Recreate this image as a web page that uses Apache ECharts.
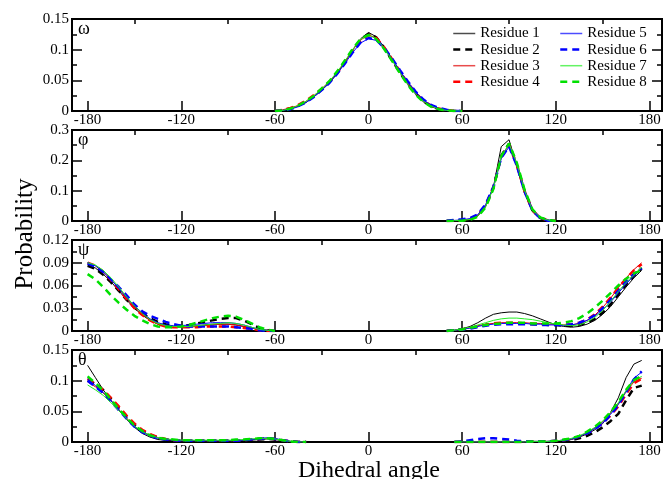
<!DOCTYPE html>
<html>
<head>
<meta charset="utf-8">
<script src="https://cdn.jsdelivr.net/npm/echarts@6/dist/echarts.min.js"></script>
<style>
  html, body { margin: 0; padding: 0; background: #fff; }
  #chart { width: 667px; height: 479px; }
</style>
</head>
<body>
<div id="chart"></div>
<script>
// Residue legend names
const residueNames = ['Residue 1', 'Residue 2', 'Residue 3', 'Residue 4', 'Residue 5', 'Residue 6', 'Residue 7', 'Residue 8'];

// Tick labels along the dihedral angle axis
const xMajorTicks = [-180, -120, -60, 0, 60, 120, 180];
const xMinorTicks = [-150, -90, -30, 30, 90, 150];

// omega distribution
const omegaAngles = [-60, -55, -50, -45, -40, -35, -30, -25, -20, -15, -10, -5, 0, 5, 10, 15, 20, 25, 30, 35, 40, 45, 50, 55, 60];
const omegaR1 = [0, .001, .004, .008, .014, .023, .034, .046, .062, .080, .100, .118, .128, .121, .104, .084, .063, .044, .028, .015, .007, .003, .001, 0, 0];
const omegaR2 = [0, .001, .004, .009, .015, .024, .035, .047, .063, .081, .100, .117, .126, .120, .103, .083, .063, .045, .029, .016, .008, .003, .001, 0, 0];
const omegaR3 = [0, .002, .005, .009, .016, .025, .036, .048, .063, .081, .100, .116, .124, .119, .103, .084, .064, .045, .029, .016, .008, .003, .001, 0, 0];
const omegaR4 = [0, .002, .005, .010, .017, .026, .036, .048, .062, .080, .099, .115, .124, .119, .104, .085, .065, .046, .030, .017, .009, .004, .001, 0, 0];
const omegaR5 = [0, .001, .003, .007, .014, .023, .034, .046, .061, .078, .096, .111, .118, .115, .102, .085, .066, .048, .032, .018, .010, .004, .001, 0, 0];
const omegaR6 = [0, .001, .003, .008, .014, .023, .034, .046, .061, .078, .096, .112, .119, .116, .103, .086, .067, .049, .032, .019, .010, .005, .002, 0, 0];
const omegaR7 = [0, .001, .004, .009, .016, .025, .036, .049, .064, .082, .101, .117, .124, .118, .102, .083, .063, .044, .028, .016, .008, .003, .001, 0, 0];
const omegaR8 = [0, .001, .004, .009, .016, .025, .037, .049, .065, .083, .102, .118, .124, .117, .101, .082, .062, .043, .027, .015, .007, .003, .001, 0, 0];

// phi distribution
const phiAngles = [50, 55, 60, 65, 70, 75, 80, 85, 90, 95, 100, 105, 110, 115, 120];
const phiR1 = [0, 0, .001, .005, .016, .048, .112, .245, .268, .180, .095, .032, .009, .002, 0];
const phiR2 = [0, .001, .002, .006, .018, .050, .110, .215, .255, .185, .098, .035, .010, .002, 0];
const phiR3 = [0, .001, .002, .006, .018, .051, .110, .210, .252, .186, .099, .036, .010, .002, 0];
const phiR4 = [0, .001, .002, .007, .019, .052, .112, .212, .250, .184, .097, .035, .010, .002, 0];
const phiR5 = [0, .002, .004, .008, .021, .054, .112, .205, .245, .183, .097, .034, .009, .001, 0];
const phiR6 = [.001, .004, .006, .010, .022, .055, .113, .208, .246, .182, .096, .034, .009, .001, 0];
const phiR7 = [0, .001, .002, .005, .016, .047, .108, .212, .255, .190, .100, .037, .011, .003, 0];
const phiR8 = [0, 0, .001, .004, .014, .045, .106, .214, .256, .192, .102, .038, .012, .003, 0];

// psi distribution (two branches, gap in between)
const psiAngles = [-180, -175, -170, -165, -160, -155, -150, -145, -140, -135, -130, -125, -120, -115, -110, -105, -100, -95, -90, -85, -80, -75, -70, -65, -60,
  50, 55, 60, 65, 70, 75, 80, 85, 90, 95, 100, 105, 110, 115, 120, 125, 130, 135, 140, 145, 150, 155, 160, 165, 170, 175];
const psiR1 = [.087, .083, .075, .065, .053, .041, .030, .021, .014, .009, .007, .006, .006, .006, .007, .008, .009, .009, .009, .008, .006, .004, .002, .001, 0,
  0, .001, .003, .006, .011, .017, .022, .024, .025, .025, .023, .020, .016, .012, .008, .006, .005, .006, .009, .014, .022, .032, .045, .058, .070, .080];
const psiR2 = [.086, .082, .074, .064, .053, .041, .031, .023, .017, .012, .009, .007, .007, .008, .010, .012, .014, .016, .017, .017, .014, .009, .004, .001, 0,
  0, .001, .002, .004, .006, .008, .009, .010, .010, .010, .010, .009, .009, .008, .008, .007, .007, .008, .011, .016, .024, .035, .048, .061, .073, .083];
const psiR3 = [.090, .086, .078, .068, .056, .043, .031, .022, .014, .009, .006, .005, .005, .005, .006, .007, .008, .009, .009, .008, .006, .004, .002, .001, 0,
  0, .001, .002, .004, .007, .009, .010, .011, .011, .011, .011, .010, .010, .009, .009, .008, .008, .010, .014, .021, .031, .043, .057, .070, .081, .090];
const psiR4 = [.090, .086, .078, .067, .055, .042, .030, .021, .014, .009, .006, .005, .005, .005, .005, .006, .006, .006, .006, .005, .004, .003, .001, 0, 0,
  0, .001, .002, .004, .006, .008, .010, .011, .011, .011, .010, .010, .009, .009, .009, .008, .009, .011, .015, .022, .032, .044, .057, .069, .080, .088];
const psiR5 = [.090, .086, .078, .068, .056, .044, .033, .024, .016, .011, .008, .007, .007, .008, .009, .010, .011, .011, .011, .010, .008, .005, .002, .001, 0,
  0, .001, .002, .004, .006, .008, .009, .010, .010, .010, .010, .009, .009, .008, .008, .007, .008, .010, .014, .020, .028, .038, .050, .062, .073, .083];
const psiR6 = [.089, .085, .078, .068, .058, .047, .035, .026, .020, .016, .012, .009, .007, .006, .006, .006, .006, .006, .006, .005, .004, .003, .001, 0, 0,
  0, .001, .002, .003, .005, .007, .008, .009, .009, .009, .009, .009, .008, .008, .008, .008, .009, .011, .015, .021, .030, .041, .053, .065, .075, .082];
const psiR7 = [.090, .087, .080, .070, .058, .045, .033, .023, .015, .010, .007, .006, .006, .006, .007, .008, .009, .010, .011, .010, .008, .005, .002, .001, 0,
  0, .001, .003, .005, .008, .011, .014, .016, .017, .017, .016, .015, .013, .011, .009, .008, .007, .008, .012, .018, .027, .039, .052, .064, .074, .084];
const psiR8 = [.075, .068, .058, .047, .037, .028, .020, .014, .009, .006, .005, .005, .006, .008, .011, .014, .017, .019, .020, .019, .015, .010, .005, .002, 0,
  0, .001, .002, .004, .006, .008, .009, .010, .011, .011, .011, .010, .010, .010, .010, .011, .013, .017, .023, .031, .040, .050, .060, .069, .076, .080];

// theta distribution (two branches, gap in between)
const thetaAngles = [-180, -175, -170, -165, -160, -155, -150, -145, -140, -135, -130, -125, -120, -115, -110, -105, -100, -95, -90, -85, -80, -75, -70, -65, -60, -55, -50, -45, -40,
  55, 60, 65, 70, 75, 80, 85, 90, 95, 100, 105, 110, 115, 120, 125, 130, 135, 140, 145, 150, 155, 160, 165, 170, 175];
const thetaR1 = [.125, .105, .085, .068, .052, .037, .024, .014, .008, .004, .003, .002, .001, .001, .001, .001, .001, .001, .001, .002, .002, .003, .004, .005, .004, .002, .001, 0, 0,
  0, 0, 0, 0, 0, 0, 0, 0, 0, 0, 0, 0, .001, .001, .002, .004, .008, .013, .020, .030, .048, .072, .105, .127, .133];
const thetaR2 = [.100, .095, .085, .070, .055, .040, .028, .018, .012, .007, .004, .003, .002, .002, .002, .002, .002, .002, .002, .002, .002, .003, .004, .005, .004, .002, .001, 0, 0,
  0, 0, 0, 0, 0, 0, 0, 0, 0, 0, .001, .001, .001, .001, .002, .003, .006, .010, .016, .024, .034, .046, .068, .088, .092];
const thetaR3 = [.098, .090, .080, .067, .053, .039, .026, .017, .011, .007, .004, .003, .002, .002, .002, .002, .002, .002, .002, .002, .003, .004, .005, .006, .005, .003, .001, 0, 0,
  0, 0, 0, 0, 0, 0, 0, 0, 0, 0, .001, .001, .001, .002, .003, .005, .009, .015, .023, .033, .047, .062, .082, .098, .104];
const thetaR4 = [.103, .094, .085, .072, .058, .043, .030, .020, .013, .008, .005, .003, .002, .002, .002, .002, .002, .002, .002, .002, .003, .004, .005, .006, .005, .003, .001, 0, 0,
  0, 0, 0, 0, 0, 0, 0, 0, 0, 0, .001, .001, .001, .002, .003, .005, .009, .015, .022, .031, .043, .058, .078, .096, .103];
const thetaR5 = [.103, .092, .081, .067, .052, .038, .025, .016, .010, .006, .004, .003, .002, .002, .002, .002, .002, .002, .002, .002, .003, .004, .005, .007, .006, .003, .001, 0, 0,
  0, 0, 0, 0, 0, 0, 0, 0, 0, 0, .001, .001, .001, .002, .003, .005, .009, .015, .022, .031, .045, .061, .083, .104, .114];
const thetaR6 = [.100, .090, .080, .066, .052, .038, .025, .016, .010, .006, .004, .003, .002, .002, .002, .002, .002, .002, .002, .002, .003, .004, .005, .006, .005, .003, .001, 0, 0,
  0, .001, .003, .005, .006, .006, .005, .004, .002, .001, .001, .001, .001, .002, .003, .005, .009, .014, .021, .030, .044, .060, .081, .102, .115];
const thetaR7 = [.093, .085, .076, .064, .051, .038, .026, .017, .011, .007, .005, .004, .003, .003, .003, .003, .003, .003, .003, .003, .004, .005, .006, .006, .005, .003, .001, 0, 0,
  0, 0, 0, 0, 0, 0, 0, 0, 0, 0, .001, .001, .001, .002, .003, .006, .010, .016, .024, .034, .048, .064, .084, .100, .107];
const thetaR8 = [.107, .096, .084, .069, .054, .040, .027, .018, .011, .007, .005, .004, .003, .003, .003, .003, .003, .003, .003, .004, .004, .005, .006, .006, .005, .003, .001, 0, 0,
  0, 0, 0, 0, 0, 0, 0, 0, 0, 0, .001, .001, .001, .002, .004, .006, .010, .017, .025, .035, .049, .065, .085, .101, .108];

// Panel value ranges and y tick steps
const panelYMax = [0.15, 0.3, 0.12, 0.15];
const panelYStep = [0.05, 0.1, 0.03, 0.05];
const panelSymbols = ['ω', 'φ', 'ψ', 'θ'];

const panels = [
  { angles: omegaAngles, sets: [omegaR1, omegaR2, omegaR3, omegaR4, omegaR5, omegaR6, omegaR7, omegaR8] },
  { angles: phiAngles, sets: [phiR1, phiR2, phiR3, phiR4, phiR5, phiR6, phiR7, phiR8] },
  { angles: psiAngles, sets: [psiR1, psiR2, psiR3, psiR4, psiR5, psiR6, psiR7, psiR8] },
  { angles: thetaAngles, sets: [thetaR1, thetaR2, thetaR3, thetaR4, thetaR5, thetaR6, thetaR7, thetaR8] },
];

// Styling / layout
const residueColors = ['#000000', '#000000', '#e00000', '#ff0000', '#0000ff', '#0000ff', '#22ee22', '#00e000'];
const residueDashed = [false, true, false, true, false, true, false, true];
const panelTop = [19, 130, 240, 350];
const panelHeight = [92, 91, 91, 92];
const FONT = 'Liberation Serif, Times New Roman, serif';

// Turn angle/value arrays into line points, breaking the line across gaps
function toPoints(angles, values) {
  const out = [];
  for (let i = 0; i < angles.length; i++) {
    if (i > 0 && angles[i] - angles[i - 1] > 5) {
      out.push([(angles[i] + angles[i - 1]) / 2, '-']);
    }
    out.push([angles[i], values[i]]);
  }
  return out;
}

function lineStyleFor(r) {
  return {
    color: residueColors[r],
    width: residueDashed[r] ? 2.5 : 1,
    type: residueDashed[r] ? [7, 5] : 'solid',
  };
}

const grids = [];
const xAxes = [];
const yAxes = [];
const series = [];
const graphics = [];

panels.forEach(function (panel, p) {
  grids.push({
    left: 72,
    right: 5,
    top: panelTop[p],
    height: panelHeight[p],
    show: true,
    borderColor: '#000',
    borderWidth: 2,
    backgroundColor: 'transparent',
  });

  // major ticks + labels
  xAxes.push({
    gridIndex: p,
    type: 'value',
    min: -190,
    max: 188,
    axisLine: { show: false, onZero: false },
    splitLine: { show: false },
    axisTick: { show: true, inside: true, length: 10, customValues: xMajorTicks, lineStyle: { color: '#000', width: 1.5 } },
    axisLabel: { customValues: xMajorTicks, color: '#000', fontFamily: FONT, fontSize: 15, margin: 2 },
  });
  // minor ticks
  xAxes.push({
    gridIndex: p,
    type: 'value',
    min: -190,
    max: 188,
    axisLine: { show: false, onZero: false },
    splitLine: { show: false },
    axisTick: { show: true, inside: true, length: 5, customValues: xMinorTicks, lineStyle: { color: '#000', width: 1.5 } },
    axisLabel: { show: false },
  });

  ['left', 'right'].forEach(function (side) {
    yAxes.push({
      gridIndex: p,
      type: 'value',
      position: side,
      min: 0,
      max: panelYMax[p],
      interval: panelYStep[p],
      axisLine: { show: false, onZero: false },
      splitLine: { show: false },
      axisTick: { show: true, inside: true, length: 10, lineStyle: { color: '#000', width: 1.5 } },
      minorTick: { show: true, splitNumber: 2, length: 5, lineStyle: { color: '#000', width: 1.5 } },
      axisLabel: { show: side === 'left', color: '#000', fontFamily: FONT, fontSize: 15, margin: 3 },
    });
  });

  panel.sets.forEach(function (values, r) {
    series.push({
      name: residueNames[r],
      type: 'line',
      xAxisIndex: 2 * p,
      yAxisIndex: 2 * p,
      symbol: 'none',
      animation: false,
      data: toPoints(panel.angles, values),
      lineStyle: lineStyleFor(r),
      itemStyle: { color: residueColors[r] },
    });
  });

  graphics.push({
    type: 'text',
    left: 78,
    top: panelTop[p] + 1,
    style: { text: panelSymbols[p], font: '18px ' + FONT, fill: '#000' },
  });
});

graphics.push({
  type: 'text',
  x: 25,
  y: 234,
  rotation: Math.PI / 2,
  style: { text: 'Probability', font: '25px ' + FONT, fill: '#000', align: 'center', verticalAlign: 'middle' },
});
graphics.push({
  type: 'text',
  x: 369,
  y: 471,
  style: { text: 'Dihedral angle', font: '24px ' + FONT, fill: '#000', align: 'center', verticalAlign: 'middle' },
});

function legendItems(from, to) {
  const items = [];
  for (let r = from; r < to; r++) {
    items.push({
      name: residueNames[r],
      lineStyle: {
        color: residueColors[r],
        width: residueDashed[r] ? 2.5 : 1.5,
        type: residueDashed[r] ? [7, 5] : 'solid',
        opacity: residueDashed[r] ? 1 : 0.7,
      },
    });
  }
  return items;
}

const legendCommon = {
  orient: 'vertical',
  padding: 0,
  itemWidth: 22,
  itemHeight: 10,
  itemGap: 1.1,
  itemTextGap: 5,
  itemStyle: { opacity: 0 },
  textStyle: { fontFamily: FONT, fontSize: 15, color: '#000' },
  selectedMode: false,
};

const chart = echarts.init(document.getElementById('chart'));
chart.setOption({
  backgroundColor: '#fff',
  animation: false,
  grid: grids,
  xAxis: xAxes,
  yAxis: yAxes,
  legend: [
    Object.assign({ left: 452, top: 26, data: legendItems(0, 4) }, legendCommon),
    Object.assign({ left: 559, top: 26, data: legendItems(4, 8) }, legendCommon),
  ],
  graphic: graphics,
  series: series,
});
</script>
</body>
</html>
